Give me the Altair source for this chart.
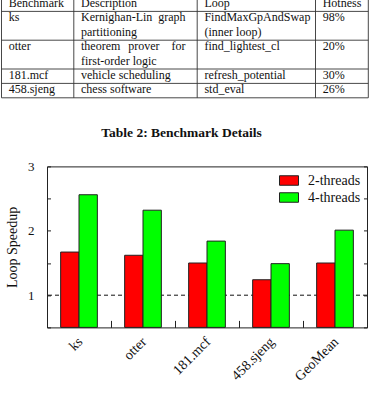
import altair as alt
import pandas as pd

FONT = "Liberation Serif"

# ---------------- table contents ----------------
table_headers = ["Benchmark", "Description", "Loop", "Hotness"]
table_benchmarks = ["ks", "otter", "181.mcf", "458.sjeng"]
table_descriptions = [
    ["Kernighan-Lin graph", "partitioning"],
    ["theorem prover for", "first-order logic"],
    ["vehicle scheduling"],
    ["chess software"],
]
table_loops = [
    ["FindMaxGpAndSwap", "(inner loop)"],
    ["find_lightest_cl"],
    ["refresh_potential"],
    ["std_eval"],
]
table_hotness = ["98%", "20%", "30%", "26%"]
table_caption = "Table 2: Benchmark Details"

# ---------------- speedup chart ----------------
benchmarks = ["ks", "otter", "181.mcf", "458.sjeng", "GeoMean"]
speedup_2_threads = [1.67, 1.62, 1.50, 1.24, 1.50]
speedup_4_threads = [2.56, 2.32, 1.84, 1.49, 2.01]
series_names = ["2-threads", "4-threads"]
series_colors = ["#ff0000", "#00ff00"]

# ---------------- table layout (pixels) ----------------
COL_EDGES = [1, 73.3, 196.7, 315, 367.8]
TEXT_INSET = 7.2
DESC_RIGHT = 185.0
TABLE_FONT_SIZE = 12
LINE_PX = 14.4
CHAR_EM = 0.44
CAPTION_X = 181.0
CAPTION_LINE = 9.02

cells = []


def add_cell(text, x, line, anchor="left"):
    cells.append({"text": text, "x": x, "line": line + 0.7, "anchor": anchor})


def add_justified(text, left, right, line):
    """Spread the words of a full paragraph line across the column width."""
    words = text.split()
    cw = CHAR_EM * TABLE_FONT_SIZE
    widths = [len(w) * cw for w in words]
    gap = (right - left - sum(widths)) / (len(words) - 1)
    pos = left
    for k, (w, wd) in enumerate(zip(words, widths)):
        if k == 0:
            add_cell(w, left, line, "left")
        elif k == len(words) - 1:
            add_cell(w, right, line, "right")
        else:
            add_cell(w, pos + wd / 2, line, "center")
        pos += wd + gap


for c, h in enumerate(table_headers):
    add_cell(h, COL_EDGES[c] + TEXT_INSET, 0)

row_edges = [0, 1]
line = 1
for i, bench in enumerate(table_benchmarks):
    add_cell(bench, COL_EDGES[0] + TEXT_INSET, line)
    desc = table_descriptions[i]
    for j, t in enumerate(desc):
        if j < len(desc) - 1:
            add_justified(t, COL_EDGES[1] + TEXT_INSET, DESC_RIGHT, line + j)
        else:
            add_cell(t, COL_EDGES[1] + TEXT_INSET, line + j)
    for j, t in enumerate(table_loops[i]):
        add_cell(t, COL_EDGES[2] + TEXT_INSET, line + j)
    add_cell(table_hotness[i], COL_EDGES[3] + TEXT_INSET, line)
    line += max(len(desc), len(table_loops[i]))
    row_edges.append(line)

total_lines = line
cells_df = pd.DataFrame(cells)
caption_df = pd.DataFrame({"text": [table_caption], "x": [CAPTION_X],
                           "line": [CAPTION_LINE + 0.7]})
hrules_df = pd.DataFrame({"y": row_edges, "x0": COL_EDGES[0], "x1": COL_EDGES[-1]})
vrules_df = pd.DataFrame({"x": COL_EDGES, "y0": 0, "y1": total_lines})

PLOT_W = 320
PLOT_H = 161
ORIGIN_X = 46.5

tx = alt.Scale(domain=[ORIGIN_X, ORIGIN_X + PLOT_W], nice=False, zero=False)
ty = alt.Scale(domain=[0, total_lines], nice=False, zero=False, reverse=True)


def text_layer(anchor):
    return (
        alt.Chart(cells_df)
        .transform_filter(alt.datum.anchor == anchor)
        .mark_text(align=anchor, baseline="alphabetic", font=FONT,
                   fontSize=TABLE_FONT_SIZE, color="#111")
        .encode(
            x=alt.X("x:Q", scale=tx, axis=None),
            y=alt.Y("line:Q", scale=ty, axis=None),
            text="text:N",
        )
    )


hrules = alt.Chart(hrules_df).mark_rule(color="#333", strokeWidth=0.9).encode(
    x=alt.X("x0:Q", scale=tx, axis=None),
    x2="x1:Q",
    y=alt.Y("y:Q", scale=ty, axis=None),
)
vrules = alt.Chart(vrules_df).mark_rule(color="#333", strokeWidth=0.9).encode(
    x=alt.X("x:Q", scale=tx, axis=None),
    y=alt.Y("y0:Q", scale=ty, axis=None),
    y2="y1:Q",
)
caption = alt.Chart(caption_df).mark_text(
    align="center", baseline="alphabetic", font=FONT, fontSize=13.5,
    fontWeight="bold", color="#111",
).encode(
    x=alt.X("x:Q", scale=tx, axis=None),
    y=alt.Y("line:Q", scale=ty, axis=None),
    text="text:N",
)

table = alt.layer(
    hrules, vrules, text_layer("left"), text_layer("center"), text_layer("right"),
    caption,
).properties(
    width=PLOT_W,
    height=total_lines * LINE_PX,
    view=alt.ViewBackground(stroke="transparent"),
)

# ---------------- bar chart ----------------
bars_df = pd.DataFrame({
    "benchmark": benchmarks * 2,
    "series": [s for s in series_names for _ in benchmarks],
    "speedup": speedup_2_threads + speedup_4_threads,
})
ref_df = pd.DataFrame({"level": [1.0]})

y_scale = alt.Scale(domain=[0.5, 3], nice=False, zero=False)
tick_values = [0.5, 1, 1.5, 2, 2.5, 3]

left_axis = alt.Axis(
    title="Loop Speedup", values=tick_values, format="~g",
    labelExpr="datum.value % 1 == 0 ? datum.label : ''",
    offset=-3.5, tickSize=3.5, tickColor="#222", domain=False, grid=False,
    labelPadding=13, labelFlush=False, labelFont=FONT, labelFontSize=13,
    labelColor="#111", titleFont=FONT, titleFontSize=14, titleFontWeight="normal",
    titleColor="#111", titlePadding=8,
)
right_axis = alt.Axis(
    orient="right", values=tick_values, labels=False, title=None,
    offset=-3.5, tickSize=3.5, tickColor="#222", domain=False, grid=False,
)

ref_line = alt.Chart(ref_df).mark_rule(
    color="#111", strokeDash=[4, 3], strokeWidth=1
).encode(y=alt.Y("level:Q", scale=y_scale, axis=right_axis))

bars = alt.Chart(bars_df).mark_bar(stroke="#222", strokeWidth=1).encode(
    x=alt.X(
        "benchmark:N", sort=benchmarks,
        scale=alt.Scale(paddingInner=0, paddingOuter=0),
        axis=alt.Axis(
            title=None, offset=-7, tickSize=7, tickBand="extent", tickColor="#222",
            domain=False, labelAngle=-45, labelFont=FONT, labelFontSize=14,
            labelColor="#111", labelPadding=7, labelOffset=-4,
        ),
    ),
    xOffset=alt.XOffset(
        "series:N", sort=series_names,
        scale=alt.Scale(paddingInner=0, paddingOuter=0.744),
    ),
    y=alt.Y("speedup:Q", scale=y_scale, axis=left_axis),
    y2=alt.datum(0.5),
    color=alt.Color(
        "series:N",
        scale=alt.Scale(domain=series_names, range=series_colors),
        legend=alt.Legend(
            title=None, orient="none", legendX=232, legendY=173.5, padding=0,
            symbolType="M-1,-0.5H1V0.5H-1Z", symbolSize=361,
            symbolStrokeColor="#222", symbolStrokeWidth=1, symbolOpacity=1,
            labelFont=FONT, labelFontSize=14, labelColor="#111",
            labelOffset=9, rowPadding=0,
        ),
    ),
)

speedup = alt.layer(ref_line, bars).resolve_axis(y="independent").properties(
    width=PLOT_W,
    height=PLOT_H,
    view=alt.ViewBackground(stroke="#222", strokeWidth=1),
)

chart = alt.vconcat(table, speedup, spacing=68.4, bounds="flush").properties(
    padding={"left": 0, "top": -4, "right": 0, "bottom": 0},
    background="white",
).configure(font=FONT)

chart.save("out.html", embed_options={"renderer": "svg", "actions": False})
